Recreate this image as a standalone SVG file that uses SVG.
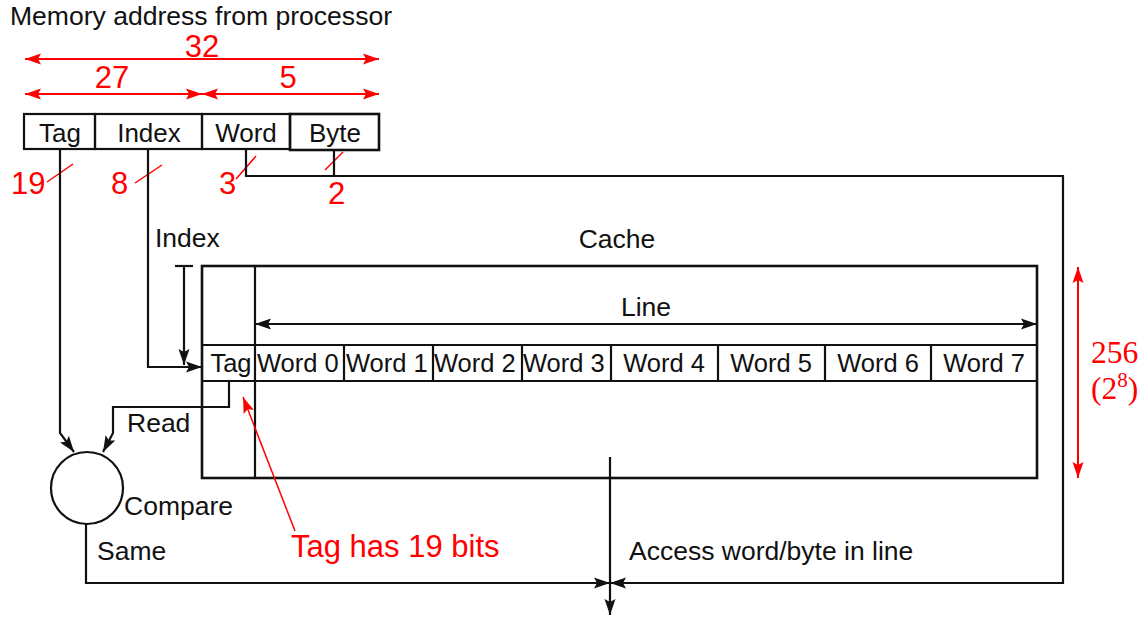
<svg xmlns="http://www.w3.org/2000/svg" width="1144" height="617" viewBox="0 0 1144 617">
  <style>
    .lbl { font-family: "Liberation Sans", Arial, sans-serif; font-size: 26.5px; fill: #111; }
    .fld { font-family: "Liberation Sans", Arial, sans-serif; font-size: 26px; fill: #111; }
    .wd { font-family: "Liberation Sans", Arial, sans-serif; font-size: 25.5px; fill: #111; }
    .red { font-family: "Liberation Sans", Arial, sans-serif; font-size: 31px; fill: #ff0000; }
    .rser { font-family: "Liberation Serif", "Times New Roman", serif; fill: #ff0000; }
    .ln { fill: none; stroke: #111; stroke-width: 2.2; }
    .box { fill: none; stroke: #111; stroke-width: 2.6; }
    .rl { fill: none; stroke: #ff0000; stroke-width: 2; }
    .rthin { fill: none; stroke: #ff0000; stroke-width: 1.5; }
    .mid { text-anchor: middle; }
  </style>
  <defs>
    <marker id="ah" markerUnits="userSpaceOnUse" markerWidth="17" markerHeight="12" refX="16" refY="5.5" orient="auto-start-reverse" viewBox="0 0 17 11">
      <path d="M0,0 L16,5.5 L0,11 L3,5.5 z" fill="#111"/>
    </marker>
    <marker id="rh" markerUnits="userSpaceOnUse" markerWidth="17" markerHeight="12" refX="16" refY="5.5" orient="auto-start-reverse" viewBox="0 0 17 11">
      <path d="M0,0 L16,5.5 L0,11 L3,5.5 z" fill="#ff0000"/>
    </marker>
  </defs>

  <!-- address format -->
  <g id="address">
    <text class="lbl" x="10" y="25" font-size="25" textLength="382" lengthAdjust="spacingAndGlyphs">Memory address from processor</text>
    <text class="red mid" x="202" y="57" font-size="29">32</text>
    <text class="red mid" x="112" y="88">27</text>
    <text class="red mid" x="288" y="88">5</text>
    <line class="rl" x1="25" y1="59" x2="379" y2="59" marker-start="url(#rh)" marker-end="url(#rh)"/>
    <line class="rl" x1="25" y1="94" x2="202" y2="94" marker-start="url(#rh)" marker-end="url(#rh)"/>
    <line class="rl" x1="202" y1="94" x2="379" y2="94" marker-start="url(#rh)" marker-end="url(#rh)"/>
  </g>
  <g id="field-tag">
    <rect class="ln" x="24" y="114" width="71" height="35"/>
    <text class="fld mid" x="60" y="142">Tag</text>
  </g>
  <g id="field-index">
    <rect class="ln" x="95" y="114" width="107" height="35"/>
    <text class="fld mid" x="149" y="142">Index</text>
  </g>
  <g id="field-word">
    <rect class="ln" x="202" y="114" width="88" height="35"/>
    <text class="fld mid" x="246" y="142">Word</text>
  </g>
  <g id="field-byte">
    <rect class="box" x="290" y="114" width="89" height="36"/>
    <text class="fld mid" x="335" y="142">Byte</text>
  </g>

  <!-- bit counts -->
  <g id="bit-counts">
    <text class="red" x="11" y="194">19</text>
    <line class="rthin" x1="47" y1="182" x2="73" y2="164"/>
    <text class="red" x="111" y="194">8</text>
    <line class="rthin" x1="135" y1="183" x2="162" y2="165"/>
    <text class="red" x="219" y="194">3</text>
    <line class="rthin" x1="236" y1="179" x2="256" y2="156"/>
    <text class="red" x="328" y="204">2</text>
    <line class="rthin" x1="325" y1="170" x2="343" y2="152"/>
  </g>

  <!-- cache -->
  <g id="cache">
    <text class="lbl mid" x="617" y="248">Cache</text>
    <rect class="box" x="202" y="266" width="835" height="212"/>
    <line class="ln" x1="255" y1="266" x2="255" y2="478"/>
    <text class="lbl mid" x="646" y="316">Line</text>
    <line class="ln" x1="255" y1="324" x2="1037" y2="324" marker-start="url(#ah)" marker-end="url(#ah)"/>
    <line class="ln" x1="202" y1="345" x2="1037" y2="345"/>
    <line class="ln" x1="202" y1="381" x2="1037" y2="381"/>
  </g>
  <g id="cache-tag">
    <text class="wd mid" x="231" y="372">Tag</text>
  </g>
  <g id="cache-words">
    <line class="ln" x1="344" y1="345" x2="344" y2="381"/>
    <line class="ln" x1="433" y1="345" x2="433" y2="381"/>
    <line class="ln" x1="522" y1="345" x2="522" y2="381"/>
    <line class="ln" x1="611" y1="345" x2="611" y2="381"/>
    <line class="ln" x1="718" y1="345" x2="718" y2="381"/>
    <line class="ln" x1="825" y1="345" x2="825" y2="381"/>
    <line class="ln" x1="931" y1="345" x2="931" y2="381"/>
    <text class="wd" x="257" y="372">Word 0</text>
    <text class="wd" x="346" y="372">Word 1</text>
    <text class="wd" x="434" y="372">Word 2</text>
    <text class="wd" x="523" y="372">Word 3</text>
    <text class="wd mid" x="664" y="372">Word 4</text>
    <text class="wd mid" x="771" y="372">Word 5</text>
    <text class="wd mid" x="878" y="372">Word 6</text>
    <text class="wd mid" x="984" y="372">Word 7</text>
  </g>

  <!-- size of cache -->
  <g id="cache-size">
    <line class="rl" x1="1078" y1="267" x2="1078" y2="478" marker-start="url(#rh)" marker-end="url(#rh)"/>
    <text class="rser" x="1091" y="363" font-size="31.5">256</text>
    <text class="rser" x="1091" y="399" font-size="31.5">(2<tspan font-size="21" dy="-12">8</tspan><tspan dy="12">)</tspan></text>
  </g>

  <!-- comparator -->
  <g id="compare">
    <circle class="ln" cx="87" cy="488" r="36"/>
    <text class="lbl" x="124" y="515">Compare</text>
  </g>

  <!-- note -->
  <g id="note">
    <text class="red" x="291" y="557">Tag has 19 bits</text>
    <line class="rthin" x1="295" y1="531" x2="243" y2="397" marker-end="url(#rh)"/>
  </g>

  <!-- connectors -->
  <g id="connectors">
    <polyline class="ln" points="60,149 60,433 74,452" marker-end="url(#ah)"/>
    <polyline class="ln" points="148,149 148,367 202,367" marker-end="url(#ah)"/>
    <line class="ln" x1="175" y1="266" x2="193" y2="266"/>
    <line class="ln" x1="184" y1="266" x2="184" y2="365" marker-end="url(#ah)"/>
    <text class="lbl" x="155" y="247">Index</text>
    <polyline class="ln" points="229,381 229,407 113,407 113,433 103,452" marker-end="url(#ah)"/>
    <text class="lbl" x="127" y="432">Read</text>
    <polyline class="ln" points="246,149 246,176 1063,176 1063,583 610,583" marker-end="url(#ah)"/>
    <line class="ln" x1="334" y1="149" x2="334" y2="176"/>
    <polyline class="ln" points="86,524 86,583 610,583" marker-end="url(#ah)"/>
    <text class="lbl" x="97" y="560">Same</text>
    <line class="ln" x1="610" y1="457" x2="610" y2="615" marker-end="url(#ah)"/>
    <text class="lbl" x="629" y="560">Access word/byte in line</text>
  </g>
</svg>
